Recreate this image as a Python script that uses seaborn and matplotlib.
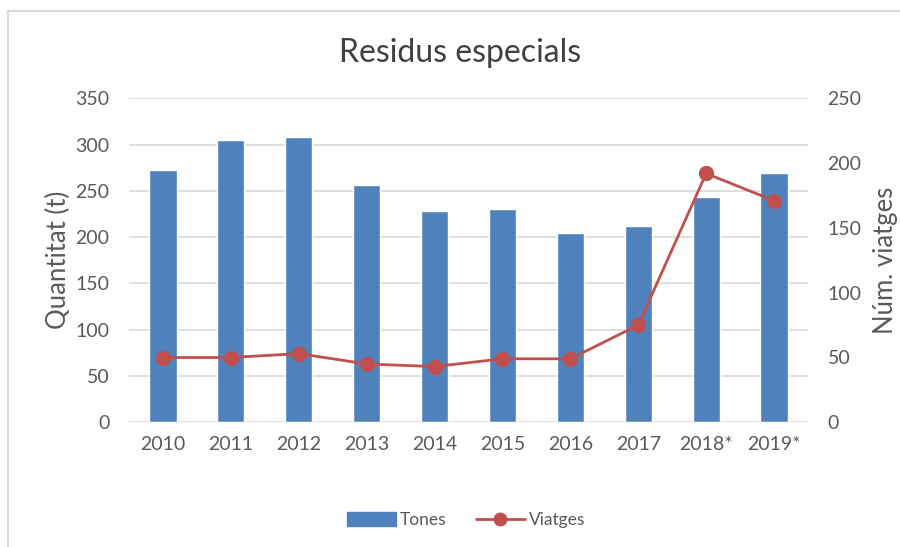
import matplotlib
matplotlib.use("Agg")
import matplotlib.pyplot as plt
import seaborn as sns
import pandas as pd
from matplotlib.lines import Line2D

years = ["2010", "2011", "2012", "2013", "2014", "2015", "2016", "2017", "2018*", "2019*"]
tones = [273, 305, 308, 256, 228, 230, 204, 212, 243, 269]
viatges = [50, 50, 53, 45, 43, 49, 49, 75, 192, 171]

df = pd.DataFrame({"Any": years, "Tones": tones, "Viatges": viatges})

sns.set_theme(style="white")
plt.rcParams["font.family"] = ["Lato", "DejaVu Sans"]

txt = "#595959"
fig = plt.figure(figsize=(9, 5.47), dpi=100)
ax = fig.add_axes([129/900, 1-422.3/547, (808-129)/900, (422.3-98.3)/547])

sns.barplot(data=df, x="Any", y="Tones", color="#4F81BD", saturation=1, width=0.4, ax=ax, zorder=2)
ax.set_ylim(0, 350)
ax.set_yticks(range(0, 351, 50))
ax.set_xlim(-0.5, 9.5)
ax.yaxis.grid(True, color="#D9D9D9", linewidth=1.2, zorder=0)
ax.set_axisbelow(True)
for s in ax.spines.values():
    s.set_visible(False)
ax.set_xlabel("")
ax.set_ylabel("Quantitat (t)", fontsize=18.5, color=txt, labelpad=3)
ax.tick_params(axis="both", length=0, labelsize=14, labelcolor=txt)
ax.tick_params(axis="y", pad=14)
ax.tick_params(axis="x", pad=10)

ax2 = ax.twinx()
sns.lineplot(data=df, x="Any", y="Viatges", color="#C0504D", marker="o", markersize=11,
             markeredgewidth=0, linewidth=2, ax=ax2, sort=False)
ax2.set_ylim(0, 250)
ax2.set_yticks(range(0, 251, 50))
ax2.set_xlim(-0.5, 9.5)
for s in ax2.spines.values():
    s.set_visible(False)
ax2.set_ylabel("Núm. viatges", fontsize=18.5, color=txt, labelpad=8)
ax2.tick_params(axis="y", length=0, labelsize=14, labelcolor=txt, pad=14)
ax2.grid(False)

fig.text(0.511, 1-53/547, "Residus especials", ha="center", va="center", fontsize=23, color="#404040")

handles = [
    plt.Rectangle((0, 0), 1, 1, color="#4F81BD"),
    Line2D([0], [0], color="#C0504D", marker="o", markersize=10, linewidth=2, markeredgewidth=0),
]
fig.legend(handles, ["Tones", "Viatges"], loc="center", bbox_to_anchor=(0.518, 1-520/547),
           ncol=2, frameon=False, fontsize=12.5, labelcolor=txt, handlelength=2.8,
           handleheight=0.8, columnspacing=1.7, handletextpad=0.25)

fig.add_artist(Line2D([8/900, 8/900, 1], [0, 1-11/547, 1-11/547], transform=fig.transFigure,
                      color="#D9D9D9", linewidth=1.5))

fig.savefig("out.png", dpi=100)
